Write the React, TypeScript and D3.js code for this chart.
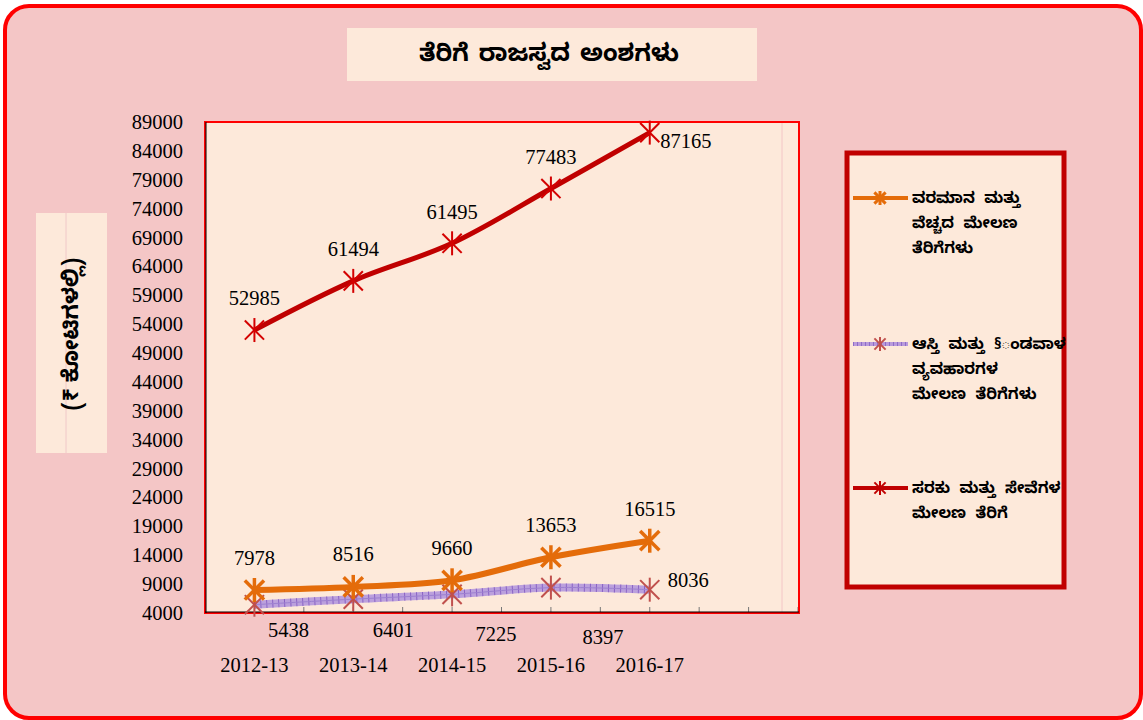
import React from "react";
import * as d3 from "d3";

const categories = ["2012-13", "2013-14", "2014-15", "2015-16", "2016-17"];
const incomeTax = [7978, 8516, 9660, 13653, 16515];
const propertyTax = [5438, 6401, 7225, 8397, 8036];
const goodsTax = [52985, 61494, 68000, 77483, 87165];
const goodsTaxLabels = ["52985", "61494", "61495", "77483", "87165"];
const yTicks = d3.range(4000, 89001, 5000);

const seriesNames = [
  ["ವರಮಾನ ಮತ್ತು", "ವೆಚ್ಚದ ಮೇಲಣ", "ತೆರಿಗೆಗಳು"],
  ["ಆಸ್ತಿ ಮತ್ತು §ಂಡವಾಳ", "ವ್ಯವಹಾರಗಳ", "ಮೇಲಣ ತೆರಿಗೆಗಳು"],
  ["ಸರಕು ಮತ್ತು ಸೇವೆಗಳ", "ಮೇಲಣ ತೆರಿಗೆ"],
];
const title = "ತೆರಿಗೆ ರಾಜಸ್ವದ ಅಂಶಗಳು";
const yTitle = "(₹ ಕೋಟಿಗಳಲ್ಲಿ)";

const KN = "'Noto Sans Kannada', 'Noto Sans', 'DejaVu Sans', sans-serif";
const SERIF = "'Liberation Serif', 'Times New Roman', serif";

// layout
const L = 205, R = 799, T = 122, B = 613;
const x = d3.scaleLinear().domain([0, 12]).range([L, R - 1]);
const y = d3.scaleLinear().domain([4000, 89000]).range([B, T]);
const xi = (i: number) => x(i * 2 + 1);

const lineGen = (vals: number[]) =>
  d3.line<number>().x((_, i) => xi(i)).y((v) => y(v)).curve(d3.curveCatmullRom.alpha(0.5))(vals) || "";

function Star({ cx, cy, r, color, w }: { cx: number; cy: number; r: number; color: string; w: number }) {
  const d = r * 0.8;
  return (
    <g stroke={color} strokeWidth={w} fill="none">
      <line x1={cx} y1={cy - r} x2={cx} y2={cy + r} />
      <line x1={cx - d} y1={cy - d} x2={cx + d} y2={cy + d} />
      <line x1={cx - d} y1={cy + d} x2={cx + d} y2={cy - d} />
    </g>
  );
}

const ORANGE = "#E46C0A";
const DARKRED = "#C00000";
const MARK_P = "#C0504D";

// label offsets (layout)
const orangeLabelDy = [-32, -33, -32, -32, -32];
const redLabelPos = [
  [0, -32], [0, -32], [0, -31], [0, -32], [36, 8],
];
const purpleLabelPos = [
  [34, 630], [40, 630], [44, 634], [52, 637],
];

export default function App() {
  const ticks = d3.range(0, 13);
  return (
    <svg width={1143} height={720} style={{ position: "absolute", left: 0, top: 0 }}>
      <rect x={5} y={6} width={1136} height={712} rx={24} fill="#F4C6C6" stroke="#FF0000" strokeWidth={4} />
      {/* title */}
      <rect x={347} y={28} width={410} height={53} fill="#FDE9DA" />
      <text x={549} y={61} textAnchor="middle" fontFamily={KN} fontWeight="bold" fontSize={24} wordSpacing={3} fill="#000">
        {title}
      </text>
      {/* y title */}
      <rect x={36} y={213} width={71} height={240} fill="#FDE9DA" />
      <line x1={66} y1={213} x2={66} y2={453} stroke="#F0C8C8" strokeWidth={1} />
      <text transform="translate(78,334) rotate(-90)" textAnchor="middle" fontFamily={KN} fontWeight="bold" fontSize={22}>
        {yTitle}
      </text>
      {/* plot area */}
      <rect x={L} y={T} width={R - L} height={B - T} fill="#FDE9DA" />
      <line x1={782} y1={T} x2={782} y2={B} stroke="#F4C6C6" strokeWidth={1} />
      {ticks.map((t) => (
        <line key={t} x1={x(t)} x2={x(t)} y1={B} y2={B - 6} stroke="#777" strokeWidth={1} />
      ))}
      <rect x={L} y={T} width={R - L} height={B - T} fill="none" stroke="#FF0000" strokeWidth={2} />
      <line x1={L + 1} y1={T} x2={L + 1} y2={B} stroke="#000" strokeWidth={1} />
      <line x1={L} y1={B - 1} x2={R} y2={B - 1} stroke="#000" strokeWidth={1} />
      {/* y ticks */}
      {yTicks.map((t) => (
        <text key={t} x={183} y={y(t) + 7} textAnchor="end" fontFamily={SERIF} fontSize={20.5}>
          {t}
        </text>
      ))}
      {/* categories */}
      {categories.map((c, i) => (
        <text key={c} x={xi(i)} y={672} textAnchor="middle" fontFamily={SERIF} fontSize={20.5}>
          {c}
        </text>
      ))}
      {/* purple series */}
      <path d={lineGen(propertyTax)} fill="none" stroke="#BBA0DD" strokeWidth={8} />
      <path d={lineGen(propertyTax)} fill="none" stroke="#8A62C4" strokeWidth={8} strokeDasharray="1 5" />
      <path d={lineGen(propertyTax)} fill="none" stroke="#9C80D0" strokeWidth={1} />
      {propertyTax.map((v, i) => (
        <Star key={i} cx={xi(i)} cy={y(v)} r={12} color={MARK_P} w={2} />
      ))}
      {/* orange series */}
      <path d={lineGen(incomeTax)} fill="none" stroke={ORANGE} strokeWidth={6} />
      {incomeTax.map((v, i) => (
        <Star key={i} cx={xi(i)} cy={y(v)} r={12} color={ORANGE} w={3.5} />
      ))}
      {/* red series */}
      <path d={lineGen(goodsTax)} fill="none" stroke={DARKRED} strokeWidth={5} />
      {goodsTax.map((v, i) => (
        <Star key={i} cx={xi(i)} cy={y(v)} r={12} color="#D40000" w={2} />
      ))}
      {/* labels */}
      {incomeTax.map((v, i) => (
        <text key={i} x={xi(i)} y={y(v) + orangeLabelDy[i] + 7} textAnchor="middle" fontFamily={SERIF} fontSize={20.5}>
          {v}
        </text>
      ))}
      {goodsTax.map((v, i) => (
        <text key={i} x={xi(i) + redLabelPos[i][0]} y={y(v) + redLabelPos[i][1] + 7} textAnchor="middle" fontFamily={SERIF} fontSize={20.5}>
          {goodsTaxLabels[i]}
        </text>
      ))}
      {propertyTax.map((v, i) =>
        i < 4 ? (
          <text key={i} x={xi(i) + purpleLabelPos[i][0]} y={purpleLabelPos[i][1] + 7} textAnchor="middle" fontFamily={SERIF} fontSize={20.5}>
            {v}
          </text>
        ) : (
          <text key={i} x={xi(i) + 18} y={y(v) - 3} fontFamily={SERIF} fontSize={20.5}>
            {v}
          </text>
        )
      )}
      {/* legend */}
      <rect x={847} y={153} width={217} height={434} fill="#FDE9DA" stroke={DARKRED} strokeWidth={5} />
      {[
        { yy: 198, color: ORANGE, w: 4, mc: ORANGE, mw: 3 },
        { yy: 344, color: "#B99BDB", w: 4, mc: MARK_P, mw: 2 },
        { yy: 488, color: DARKRED, w: 4, mc: DARKRED, mw: 2 },
      ].map((s, k) => (
        <g key={k}>
          <line x1={853} x2={908} y1={s.yy} y2={s.yy} stroke={s.color} strokeWidth={s.w} />
          {k === 1 && (
            <line x1={853} x2={908} y1={s.yy} y2={s.yy} stroke="#8E6CC8" strokeWidth={4} strokeDasharray="1 3" />
          )}
          <Star cx={880} cy={s.yy} r={7} color={s.mc} w={s.mw} />
          {seriesNames[k].map((ln, j) => (
            <text key={j} x={912} y={s.yy + 5 + j * 25} fontFamily={KN} fontWeight="bold" fontSize={15.5} wordSpacing={5}>
              {ln}
            </text>
          ))}
        </g>
      ))}
    </svg>
  );
}
